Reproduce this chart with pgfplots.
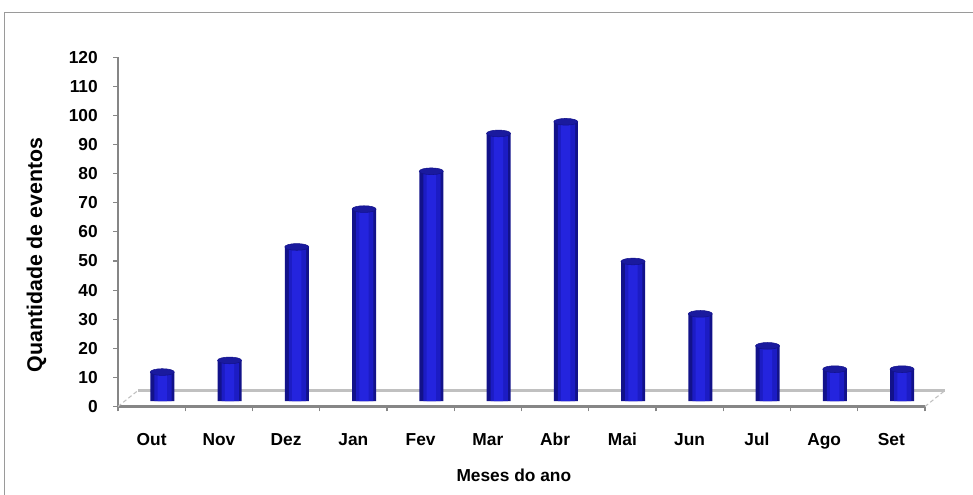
\documentclass[border=0pt]{standalone}
\usepackage{pgfplots}
\pgfplotsset{compat=1.18}
\usepackage{fontspec}
\setmainfont{Liberation Sans}
\definecolor{axgray}{HTML}{868686}
\definecolor{floorgray}{HTML}{C0C0C0}
\definecolor{framegray}{HTML}{9A9A9A}
\definecolor{bardark}{HTML}{12128A}
\definecolor{barmid}{HTML}{1C1CC4}
\definecolor{barbright}{HTML}{2424DE}
\definecolor{bartop}{HTML}{1A1A9E}
\begin{document}
\begin{tikzpicture}
\useasboundingbox (0pt,0pt) rectangle (729.75pt,371.25pt);
\draw[framegray, line width=0.75pt] (3.2pt,-2pt) -- (3.2pt,361.9pt) -- (732pt,361.9pt);
\begin{axis}[
  at={(88.5pt,66.375pt)}, anchor=south west,
  scale only axis, width=605.25pt, height=261.9pt,
  xmin=-0.5, xmax=11.5, ymin=0, ymax=120,
  clip=false,
  axis lines*=left,
  axis line style={draw=axgray, line width=1.6pt},
  ytick={0,10,...,120},
  xtick={-0.5,0.5,...,11.5},
  xticklabels={},
  extra x ticks={0,1,2,3,4,5,6,7,8,9,10,11},
  extra x tick labels={Out,Nov,Dez,Jan,Fev,Mar,Abr,Mai,Jun,Jul,Ago,Set},
  extra x tick style={major tick length=0pt, tick style={draw=none}},
  tick align=outside,
  major tick length=3.75pt,
  tick style={draw=axgray, line width=0.8pt},
  /pgf/number format/assume math mode=true,
  xticklabel style={font=\bfseries\fontsize{13}{15}\selectfont, anchor=base, yshift=-28.9pt},
  yticklabel style={font=\bfseries\fontsize{13}{15}\selectfont, anchor=east, inner sep=0pt, xshift=-11.25pt},
  xlabel={Meses do ano},
  xlabel style={at={(axis description cs:0.4905,-0.196)}, anchor=center, font=\bfseries\fontsize{13}{15}\selectfont},
  ylabel={Quantidade de eventos},
  ylabel style={at={(axis description cs:-0.101,0.434)}, anchor=center, font=\bfseries\fontsize{16}{18}\selectfont},
]
\draw[floorgray, line width=2.3pt] (axis cs:-0.203,5.5) -- (axis cs:11.797,5.5);
\draw[floorgray, line width=0.8pt, densely dashed] (axis cs:-0.5,0) -- (axis cs:-0.203,5.5);
\draw[floorgray, line width=0.8pt, densely dashed] (axis cs:11.5,0) -- (axis cs:11.797,5.5);
\addplot[ybar, bar width=18pt, bar shift=8pt, yshift=4pt, draw=none, fill=bardark]
  coordinates {(0,10) (1,14) (2,53) (3,66) (4,79) (5,92) (6,96) (7,48) (8,30) (9,19) (10,11) (11,11)};
\addplot[ybar, bar width=13pt, bar shift=8.5pt, yshift=4pt, draw=none, fill=barmid]
  coordinates {(0,10) (1,14) (2,53) (3,66) (4,79) (5,92) (6,96) (7,48) (8,30) (9,19) (10,11) (11,11)};
\addplot[ybar, bar width=7pt, bar shift=8pt, yshift=4pt, draw=none, fill=barbright]
  coordinates {(0,10) (1,14) (2,53) (3,66) (4,79) (5,92) (6,96) (7,48) (8,30) (9,19) (10,11) (11,11)};
\addplot[only marks, yshift=4pt, mark=*, mark size=9pt,
  mark options={xshift=8pt, yscale=0.28, fill=bartop, draw=bardark, line width=0.4pt}]
  coordinates {(0,10) (1,14) (2,53) (3,66) (4,79) (5,92) (6,96) (7,48) (8,30) (9,19) (10,11) (11,11)};
\end{axis}
\end{tikzpicture}
\end{document}
